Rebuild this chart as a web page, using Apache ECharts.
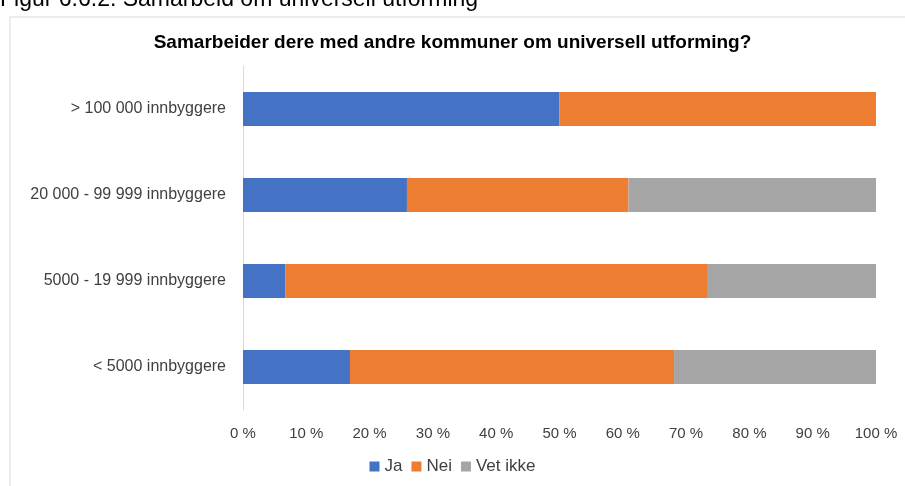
<!DOCTYPE html>
<html>
<head>
<meta charset="utf-8">
<script src="https://cdn.jsdelivr.net/npm/echarts@6/dist/echarts.min.js"></script>
<style>
  html, body { margin: 0; padding: 0; background: #fff; }
  #chart { width: 905px; height: 486px; }
</style>
</head>
<body>
<div id="chart"></div>
<script>
// kategorier (nederst -> øverst, slik ECharts tegner kategoriakse)
var categories = ['< 5000 innbyggere', '5000 - 19 999 innbyggere', '20 000 - 99 999 innbyggere', '> 100 000 innbyggere'];
var jaValues = [16.9, 6.7, 25.9, 50.0];
var neiValues = [51.2, 66.6, 35.0, 50.0];
var vetIkkeValues = [31.9, 26.7, 39.1, 0];
var xTicks = [0, 10, 20, 30, 40, 50, 60, 70, 80, 90, 100];

var font = 'Liberation Sans';

function barSeries(name, data, color) {
  return {
    name: name,
    type: 'bar',
    stack: 'total',
    barWidth: 34,
    itemStyle: { color: color },
    data: data
  };
}

var option = {
  animation: false,
  textStyle: { fontFamily: font },
  graphic: [
    { type: 'text', left: 0, top: -12, style: { text: 'Figur 6.6.2: Samarbeid om universell utforming', font: '23px ' + font, fill: '#000' } },
    { type: 'line', shape: { x1: 10, y1: 17, x2: 905, y2: 17 }, style: { stroke: '#d9d9d9', lineWidth: 1 } },
    { type: 'line', shape: { x1: 10, y1: 17, x2: 10, y2: 486 }, style: { stroke: '#d9d9d9', lineWidth: 1 } }
  ],
  title: {
    text: 'Samarbeider dere med andre kommuner om universell utforming?',
    left: 'center',
    top: 28,
    textStyle: { fontFamily: font, fontSize: 19, fontWeight: 'bold', color: '#000' }
  },
  legend: {
    bottom: 6,
    left: 'center',
    itemWidth: 10,
    itemHeight: 10,
    itemGap: 9,
    icon: 'rect',
    textStyle: { fontFamily: font, fontSize: 17, color: '#404040' },
    data: ['Ja', 'Nei', 'Vet ikke']
  },
  grid: { left: 243, right: 29, top: 66, height: 344, containLabel: false },
  xAxis: {
    type: 'value',
    min: 0,
    max: 100,
    interval: 10,
    axisLine: { show: false },
    axisTick: { show: false },
    splitLine: { show: false },
    axisLabel: {
      margin: 16,
      fontSize: 15,
      color: '#404040',
      formatter: function (v) { return xTicks.indexOf(v) >= 0 ? v + ' %' : ''; }
    }
  },
  yAxis: {
    type: 'category',
    data: categories,
    axisLine: { show: true, lineStyle: { color: '#d9d9d9', width: 1 } },
    axisTick: { show: false },
    axisLabel: { fontSize: 16, color: '#404040', margin: 17 }
  },
  series: [
    barSeries('Ja', jaValues, '#4472c4'),
    barSeries('Nei', neiValues, '#ed7d31'),
    barSeries('Vet ikke', vetIkkeValues, '#a5a5a5')
  ]
};

var chart = echarts.init(document.getElementById('chart'));
chart.setOption(option);
</script>
</body>
</html>
